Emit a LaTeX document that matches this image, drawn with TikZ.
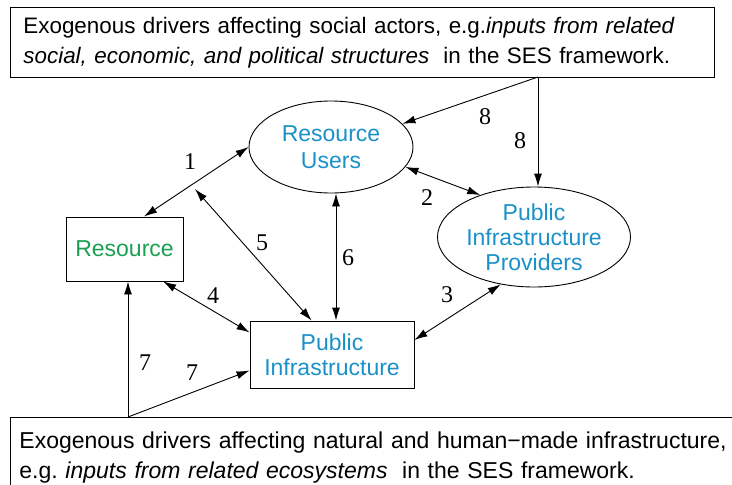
\documentclass[tikz,border=0pt]{standalone}
\usepackage{fontspec}
\setmainfont{Liberation Sans}
\newfontfamily\numfont{Liberation Serif}
\usepackage{tikz}
\usetikzlibrary{calc,shapes.geometric,arrows.meta}
\usepackage{xcolor}
\definecolor{resgreen}{RGB}{26,160,80}
\definecolor{actblue}{RGB}{25,145,200}
\tikzstyle{link}=[line width=0.9pt,-{Latex[length=13pt,width=8pt]}]
\tikzstyle{twoway}=[line width=0.9pt,{Latex[length=13pt,width=8pt]}-{Latex[length=13pt,width=8pt]}]
\tikzstyle{box}=[draw,rectangle,line width=0.9pt,font=\fontsize{23}{30}\selectfont]
\tikzstyle{actor}=[draw,ellipse,line width=0.9pt,inner sep=0pt,align=center,text=actblue]
\tikzstyle{num}=[font=\numfont\fontsize{24}{24}\selectfont,inner sep=0pt]

\begin{document}
\begin{tikzpicture}[x=1pt,y=-1pt]
  \useasboundingbox (0,0) rectangle (732,485);
  \clip (0,0) rectangle (732,485);

  % drivers
  \node[box,anchor=north west,text width=678pt,inner xsep=13pt,minimum height=70pt,align=left,
        font=\fontsize{22.4}{30}\selectfont] (social) at (10,7)
    {Exogenous drivers affecting social actors, e.g.\textit{inputs from related}\\
     \textit{social, economic, and political structures}\hspace{0.3em} in the SES framework.};
  \node[box,anchor=north west,text width=730pt,inner xsep=9pt,minimum height=80pt,align=left] (natural) at (10,417)
    {Exogenous drivers affecting natural and human−made infrastructure,\\
     e.g.\ \textit{inputs from related ecosystems}\hspace{0.3em} in the SES framework.};

  % system parts
  \node[box,minimum width=117pt,minimum height=64pt,text=resgreen] (res) at (124.5,249) {Resource};
  \node[box,minimum width=164pt,minimum height=67pt,text=actblue,align=center,
        font=\fontsize{23}{25}\selectfont] (pinf) at (332,354.5) {Public\\Infrastructure};
  \node[actor,minimum width=164pt,minimum height=92pt,font=\fontsize{23}{27}\selectfont] (users) at (331,147)
    {Resource\\Users};
  \node[actor,minimum width=193pt,minimum height=100pt,font=\fontsize{23}{25}\selectfont] (prov) at (534,237)
    {Public\\Infrastructure\\Providers};

  \coordinate (src7) at (128,417);
  \coordinate (src8) at (538,77);
  \coordinate (c5) at (195,189);
  \coordinate (c6) at (336,0);

  % links
  \draw[twoway] (res.59) -- (users.west);
  \draw[twoway] (users.-15) -- (prov.142);
  \draw[twoway] (pinf.10) -- (prov.235);
  \draw[twoway] (res.-40) -- (pinf.165);
  \draw[twoway] (pinf.121) -- (c5);
  \draw[twoway] (users.south -| c6) -- (pinf.north -| c6);
  \draw[link] (src7) -- (src7 |- res.south);
  \draw[link] (src7) -- (pinf.191);
  \draw[link] (src8) -- (users.18);
  \draw[link] (src8) -- (src8 |- prov.north);

  \node[num] (n1) at (190,162) {1};
  \node[num] (n2) at (427,198) {2};
  \node[num] (n3) at (447,295) {3};
  \node[num] (n4) at (213,296) {4};
  \node[num] (n5) at (262,243) {5};
  \node[num] (n6) at (348,258) {6};
  \node[num] (n7a) at (145,363) {7};
  \node[num] (n7b) at (192,373) {7};
  \node[num] (n8a) at (485,117) {8};
  \node[num] (n8b) at (520,141) {8};
\end{tikzpicture}
\end{document}
